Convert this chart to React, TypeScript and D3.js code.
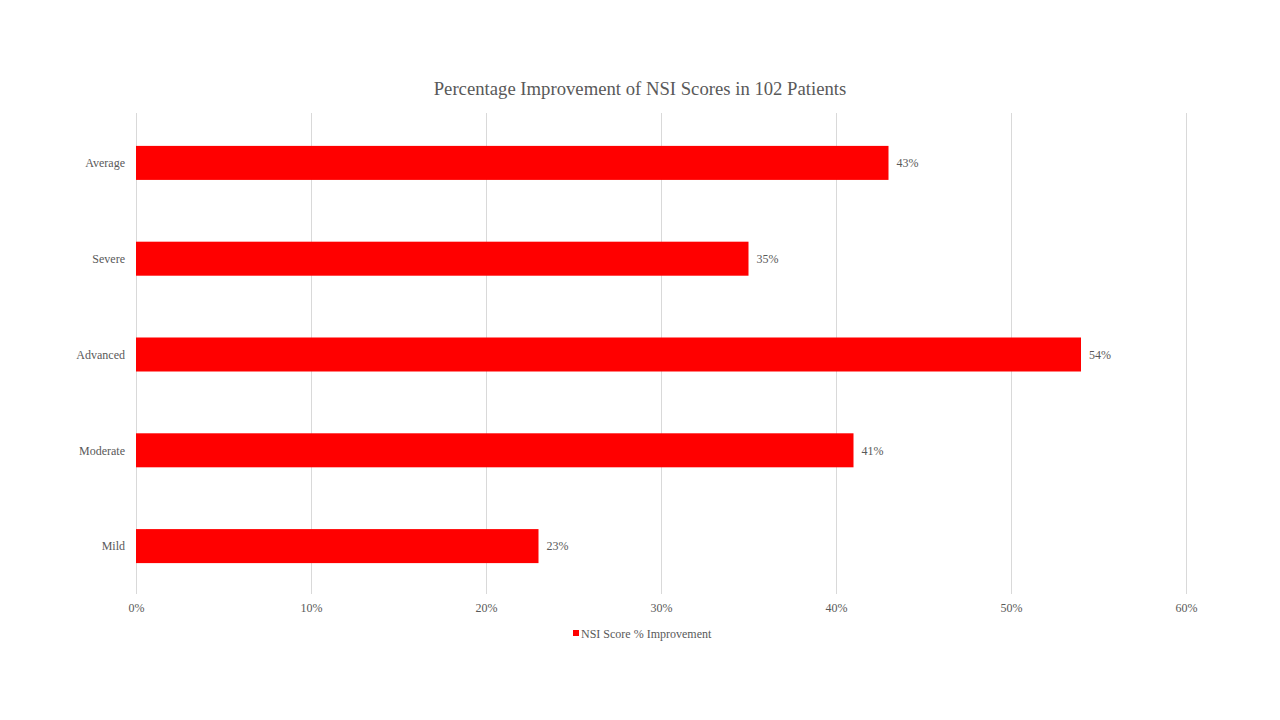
import {scaleBand, scaleLinear} from "d3";

const CATEGORIES = ["Average", "Severe", "Advanced", "Moderate", "Mild"];
const IMPROVEMENT = [0.43, 0.35, 0.54, 0.41, 0.23];
const X_TICKS = [0, 0.1, 0.2, 0.3, 0.4, 0.5, 0.6];

const TITLE = "Percentage Improvement of NSI Scores in 102 Patients";
const LEGEND_LABEL = "NSI Score % Improvement";

const FONT = "'Liberation Serif', 'Times New Roman', serif";
const TEXT_COLOR = "#595959";
const BAR_COLOR = "#ff0000";

export default function App() {
  const width = 1280;
  const height = 720;
  const margins = {top: 115, right: 94, bottom: 126, left: 136};
  const innerWidth = width - margins.left - margins.right;
  const innerHeight = height - margins.top - margins.bottom;

  const x = scaleLinear().domain([0, 0.6]).range([0, innerWidth]);
  const y = scaleBand<string>().domain(CATEGORIES).range([0, innerHeight]).paddingInner(0.645).paddingOuter(0.3225);

  const pct = (v: number) => `${Math.round(v * 100)}%`;

  return (
    <svg
      width={width}
      height={height}
      viewBox={`0 0 ${width} ${height}`}
      style={{position: "absolute", left: 0, top: 0, background: "#fff"}}
      fontFamily={FONT}
    >
      <rect width={width} height={height} fill="#fff" />
      <text x={640} y={95} textAnchor="middle" fontSize={18.7} fill={TEXT_COLOR}>
        {TITLE}
      </text>

      <g transform={`translate(${margins.left},${margins.top})`}>
        {X_TICKS.map((tick) => (
          <g key={tick} transform={`translate(${Math.round(x(tick)) + 0.5},0)`}>
            <line y1={-2} y2={innerHeight} stroke="#d9d9d9" strokeWidth={1} shapeRendering="crispEdges" />
            <text y={innerHeight + 18} textAnchor="middle" fontSize={12} fill={TEXT_COLOR}>
              {pct(tick)}
            </text>
          </g>
        ))}

        {CATEGORIES.map((cat, i) => {
          const yPos = y(cat) ?? 0;
          const value = IMPROVEMENT[i];
          return (
            <g key={cat}>
              <rect x={0} y={yPos} width={x(value)} height={y.bandwidth()} fill={BAR_COLOR} />
              <text
                x={-11}
                y={yPos + y.bandwidth() / 2}
                dy="0.35em"
                textAnchor="end"
                fontSize={12}
                fill={TEXT_COLOR}
              >
                {cat}
              </text>
              <text
                x={x(value) + 8}
                y={yPos + y.bandwidth() / 2}
                dy="0.35em"
                fontSize={12}
                fill={TEXT_COLOR}
              >
                {pct(value)}
              </text>
            </g>
          );
        })}
      </g>

      <g transform="translate(573,634)">
        <rect x={0} y={-4} width={6} height={6} fill={BAR_COLOR} />
        <text x={8} y={0} dy="0.35em" fontSize={12} fill={TEXT_COLOR}>
          {LEGEND_LABEL}
        </text>
      </g>
    </svg>
  );
}
